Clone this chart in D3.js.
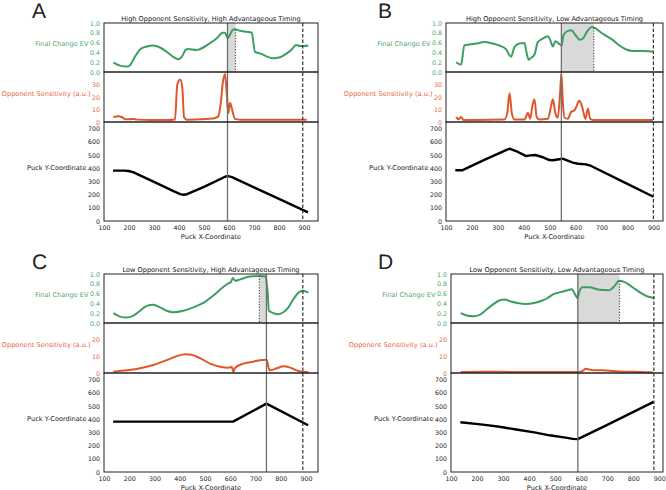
<!DOCTYPE html>
<html>
<head>
<meta charset="utf-8">
<script src="https://cdnjs.cloudflare.com/ajax/libs/d3/7.8.5/d3.min.js"></script>
<style>
  body { margin: 0; background: #fff; }
  svg { display: block; }
  text { font-family: "DejaVu Sans", sans-serif; text-rendering: geometricPrecision; }
</style>
</head>
<body>
<div id="chart"></div>
<script>
// panel texts and markers
var letters = ["A", "B", "C", "D"];
var titles = [
  "High Opponent Sensitivity, High Advantageous Timing",
  "High Opponent Sensitivity, Low Advantageous Timing",
  "Low Opponent Sensitivity, High Advantageous Timing",
  "Low Opponent Sensitivity, Low Advantageous Timing"
];
var xMax = [956, 937, 947, 914];
var choiceX = [594, 545, 743, 587];   // solid grey line
var dottedX = [626, 670, 715, 747];   // dotted line, end of shaded span
var dashedX = [895, 900, 887, 879];   // dashed line
var sensMax = [40, 40, 30, 30];
var sensTicks = [[0, 10, 20, 30], [0, 10, 20, 30], [0, 10, 20], [0, 10, 20]];
var evTicks = [0, 0.2, 0.4, 0.6, 0.8, 1.0];
var puckTicks = [0, 100, 200, 300, 400, 500, 600, 700];
var xTicks = [100, 200, 300, 400, 500, 600, 700, 800, 900];

// Final Change EV
var evA = [[137,0.19],[164,0.13],[191,0.11],[204,0.14],[224,0.31],[244,0.46],[271,0.52],[297,0.54],[324,0.50],[351,0.41],[377,0.31],[395,0.26],[411,0.31],[428,0.46],[437,0.47],[471,0.45],[497,0.50],[524,0.59],[551,0.69],[575,0.80],[584,0.80],[595,0.69],[604,0.76],[615,0.86],[624,0.87],[644,0.84],[671,0.82],[691,0.80],[704,0.41],[724,0.38],[777,0.28],[804,0.30],[831,0.38],[851,0.46],[868,0.55],[884,0.53],[900,0.53],[917,0.54]];
var evB = [[139,0.20],[158,0.15],[171,0.54],[190,0.56],[216,0.58],[248,0.61],[280,0.58],[306,0.54],[332,0.46],[345,0.34],[351,0.31],[364,0.51],[383,0.58],[403,0.59],[409,0.44],[419,0.25],[428,0.29],[441,0.35],[454,0.61],[473,0.68],[493,0.73],[502,0.65],[512,0.52],[522,0.63],[535,0.58],[546,0.54],[553,0.75],[570,0.84],[583,0.85],[600,0.75],[615,0.66],[628,0.68],[643,0.82],[664,0.92],[673,0.90],[705,0.78],[744,0.65],[769,0.54],[795,0.46],[821,0.43],[860,0.43],[898,0.42]];
var evC = [[137,0.20],[163,0.13],[190,0.11],[216,0.15],[243,0.25],[269,0.35],[295,0.37],[322,0.32],[348,0.25],[375,0.22],[414,0.25],[454,0.32],[493,0.41],[533,0.56],[566,0.71],[592,0.81],[602,0.83],[610,0.92],[619,0.86],[639,0.89],[678,0.95],[718,0.96],[740,0.95],[747,0.66],[753,0.25],[771,0.20],[790,0.18],[810,0.22],[830,0.32],[850,0.49],[870,0.62],[887,0.66],[909,0.62]];
var evD = [[137,0.20],[163,0.15],[189,0.14],[208,0.16],[233,0.26],[259,0.37],[285,0.46],[304,0.48],[330,0.44],[355,0.41],[387,0.39],[419,0.41],[451,0.46],[471,0.51],[490,0.58],[522,0.63],[548,0.67],[564,0.69],[577,0.58],[586,0.51],[592,0.63],[605,0.73],[631,0.73],[669,0.68],[708,0.67],[727,0.75],[746,0.86],[765,0.84],[797,0.73],[830,0.61],[855,0.54],[881,0.51]];

// Opponent Sensitivity (a.u.)
var sensA = [[137,4.0],[157,4.6],[171,4.0],[184,2.2],[204,2.2],[217,2.5],[231,1.9],[284,1.6],[351,1.6],[384,2.0],[393,29.6],[404,34],[413,28],[420,4.0],[431,1.9],[484,2.2],[537,2.8],[557,4.5],[567,15],[575,31],[584,38.4],[591,23],[597,7],[604,15.5],[611,11],[624,2.5],[644,1.9],[751,1.9],[911,1.9]];
var sensB = [[139,4.0],[148,2.2],[158,4.0],[167,1.7],[216,1.7],[325,2.0],[336,6.9],[345,23],[354,6.9],[364,2.0],[403,2.0],[416,7.4],[425,2.6],[432,11.7],[441,18.3],[450,3.8],[461,2.0],[493,2.6],[506,13.5],[512,18.3],[522,6.9],[531,3.4],[540,22.8],[545,38.7],[551,14.8],[557,3.4],[570,2.6],[583,8.2],[596,9.5],[615,17],[625,12.2],[638,2.6],[647,10.9],[656,2.6],[666,1.7],[898,1.7]];
var sensC = [[137,0.8],[190,1.6],[243,2.8],[295,4.8],[348,7.7],[388,10.1],[421,11.3],[447,10.9],[480,8.9],[520,5.6],[559,3.8],[592,3.2],[606,3.6],[612,0.6],[619,3.2],[652,5.6],[691,6.8],[718,7.7],[740,7.9],[744,7.7],[755,1.6],[784,2.8],[810,4.0],[837,3.2],[863,1.6],[889,0.6],[909,0.6]];
var sensD = [[137,0.6],[220,0.8],[350,0.6],[590,0.6],[605,1.2],[618,2.5],[631,2.1],[656,1.6],[682,1.6],[721,1.2],[759,0.8],[797,0.8],[874,0.4]];

// Puck Y-Coordinate
var puckA = [[136,382],[180,382],[198,379],[216,370],[300,297],[380,225],[405,204],[418,199],[432,203],[500,258],[570,322],[586,337],[597,340],[612,333],[700,255],[800,168],[916,65]];
var puckB = [[136,384],[162,384],[250,465],[338,543],[348,547],[370,530],[409,492],[425,497],[445,500],[470,485],[499,462],[512,460],[530,466],[550,472],[589,442],[610,434],[640,429],[660,417],[780,300],[900,184]];
var puckC = [[136,382],[300,382],[500,382],[611,382],[743,518],[908,354]];
var puckD = [[136,377],[222,359],[286,343],[350,322],[420,300],[478,278],[540,260],[568,251],[587,249],[700,357],[878,531]];

var evData = [evA, evB, evC, evD];
var sensData = [sensA, sensB, sensC, sensD];
var puckData = [puckA, puckB, puckC, puckD];

var green = "#3c9f61", orange = "#e0562b";
var greenText = "#4aa86c", orangeText = "#e6653c";

var layout = [
  {left: 104, right: 318, top: 23},
  {left: 446, right: 663, top: 23},
  {left: 104, right: 318, top: 274},
  {left: 451, right: 663, top: 274}
];

var svg = d3.select("#chart").append("svg")
  .attr("width", 666)
  .attr("height", 490);

function interpAt(data, xv) {
  var i = d3.bisector(function(d) { return d[0]; }).left(data, xv);
  if (i <= 0) return data[0][1];
  if (i >= data.length) return data[data.length - 1][1];
  var a = data[i - 1], b = data[i];
  return a[1] + (b[1] - a[1]) * (xv - a[0]) / (b[0] - a[0]);
}

function drawPanel(p) {
  var L = layout[p];
  var y0 = L.top, y1 = L.top + 49, y2 = L.top + 99, y3 = L.top + 198;
  var g = svg.append("g");

  var x = d3.scaleLinear().domain([100, xMax[p]]).range([L.left, L.right]);
  var yEv = d3.scaleLinear().domain([0, 1]).range([y1, y0]);
  var yS = d3.scaleLinear().domain([0, sensMax[p]]).range([y2, y1]);
  var yP = d3.scaleLinear().domain([0, 750]).range([y3, y2]);

  // shaded span in the EV panel
  var s0 = Math.min(choiceX[p], dottedX[p]), s1 = Math.max(choiceX[p], dottedX[p]);
  g.append("rect")
    .attr("x", x(s0)).attr("y", y0)
    .attr("width", x(s1) - x(s0)).attr("height", y1 - y0)
    .attr("fill", "#d9d9d9");

  var line = function(sx, sy, curve) {
    return d3.line()
      .x(function(d) { return sx(d[0]); })
      .y(function(d) { return sy(d[1]); })
      .curve(curve);
  };

  g.append("path").datum(evData[p])
    .attr("d", line(x, yEv, d3.curveMonotoneX)).attr("fill", "none")
    .attr("stroke", green).attr("stroke-width", 2);
  g.append("path").datum(sensData[p])
    .attr("d", line(x, yS, d3.curveMonotoneX)).attr("fill", "none")
    .attr("stroke", orange).attr("stroke-width", 2);
  g.append("path").datum(puckData[p])
    .attr("d", line(x, yP, d3.curveLinear)).attr("fill", "none")
    .attr("stroke", "#000").attr("stroke-width", 2.4)
    .attr("stroke-linejoin", "round");

  // vertical markers
  g.append("line")
    .attr("x1", x(choiceX[p])).attr("x2", x(choiceX[p]))
    .attr("y1", y0).attr("y2", y3)
    .attr("stroke", "#6e6e6e").attr("stroke-width", 1.3);
  g.append("line")
    .attr("x1", x(dottedX[p])).attr("x2", x(dottedX[p]))
    .attr("y1", yEv(interpAt(evData[p], dottedX[p]))).attr("y2", y1)
    .attr("stroke", "#555").attr("stroke-width", 1.2)
    .attr("stroke-dasharray", "1.2,1.6");
  g.append("line")
    .attr("x1", x(dashedX[p])).attr("x2", x(dashedX[p]))
    .attr("y1", y0).attr("y2", y3)
    .attr("stroke", "#333").attr("stroke-width", 1.2)
    .attr("stroke-dasharray", "3.5,2");

  // frames
  [[y0, y1], [y1, y2], [y2, y3]].forEach(function(r) {
    g.append("rect")
      .attr("x", L.left).attr("y", r[0])
      .attr("width", L.right - L.left).attr("height", r[1] - r[0])
      .attr("fill", "none").attr("stroke", "#222").attr("stroke-width", 1);
  });

  // axes
  function yAxis(scale, ticks, fmt, color, label, labelColor, midY) {
    var ax = g.append("g")
      .attr("transform", "translate(" + L.left + ",0)")
      .call(d3.axisLeft(scale).tickValues(ticks).tickSize(0).tickPadding(4).tickFormat(fmt));
    ax.select(".domain").remove();
    ax.selectAll("text").attr("fill", color).style("font-size", "6.3px")
      .style("font-family", "DejaVu Sans");
    var bb = ax.node().getBBox();
    g.append("text")
      .attr("x", L.left + bb.x - 1.5)
      .attr("y", midY)
      .attr("dy", "0.35em")
      .attr("text-anchor", "end")
      .attr("fill", labelColor)
      .style("font-size", "6.6px")
      .text(label);
  }
  yAxis(yEv, evTicks, d3.format(".1f"), greenText, "Final Change EV", greenText, (y0 + y1) / 2 - 4);
  yAxis(yS, sensTicks[p], d3.format("d"), orangeText, "Opponent Sensitivity (a.u.)", orangeText, (y1 + y2) / 2 - 3.5);
  yAxis(yP, puckTicks, d3.format("d"), "#222", "Puck Y-Coordinate", "#222", (y2 + y3) / 2 - 4);

  var xa = g.append("g")
    .attr("transform", "translate(0," + y3 + ")")
    .call(d3.axisBottom(x).tickValues(xTicks).tickSize(0).tickPadding(4.5).tickFormat(d3.format("d")));
  xa.select(".domain").remove();
  xa.selectAll("text").attr("fill", "#222").style("font-size", "6.3px")
    .style("font-family", "DejaVu Sans");

  g.append("text")
    .attr("x", (L.left + L.right) / 2).attr("y", y3 + 17.5)
    .attr("text-anchor", "middle").attr("fill", "#222")
    .style("font-size", "6.6px")
    .text("Puck X-Coordinate");

  g.append("text")
    .attr("x", (L.left + L.right) / 2).attr("y", y0 - 2.5)
    .attr("text-anchor", "middle").attr("fill", "#111")
    .style("font-size", "6.6px")
    .text(titles[p]);

  g.append("text")
    .attr("x", p % 2 === 0 ? 32 : 378).attr("y", y0 - 4.7)
    .attr("fill", "#222")
    .style("font-family", "Liberation Sans, Arial, sans-serif")
    .style("font-size", "21px")
    .text(letters[p]);
}

for (var p = 0; p < 4; p++) drawPanel(p);
</script>
</body>
</html>
